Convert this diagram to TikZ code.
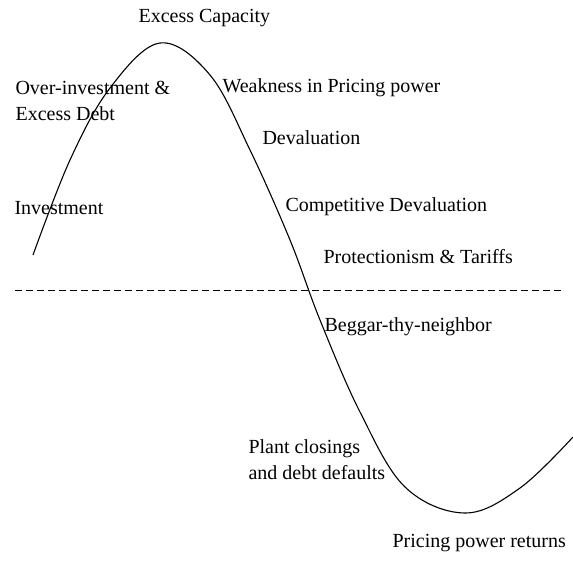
\documentclass[tikz,border=0pt]{standalone}
\usepackage{fontspec}
\setmainfont{Liberation Serif}
\usetikzlibrary{
	positioning,
	calc}
\tikzset{
	cycle plot/.style={
		x=1pt, y=-1pt,
		line width=1.1pt,
		every node/.style={font=\fontsize{20}{26}\selectfont}
		},
	phase/.style={
		anchor=west,
		inner sep=0pt,
		align=left
	},
	wave/.style={
		draw=black,
		line width=1.1pt,
		smooth,
		tension=0.6
	},
	zero line/.style={
		draw=black,
		line width=1pt,
		dash pattern=on 7pt off 4pt
	},
}
\begin{document}
\begin{tikzpicture}[cycle plot]
	\fill[white] (0,0) rectangle (573,560);
	\useasboundingbox (0,0) rectangle (573,560);
%
	\node[phase] (cap)     at (138,18)  {Excess Capacity};
	\node[phase] (overinv) at (15,101)  {Over-investment \&\\Excess Debt};
	\node[phase] (invest)  at (14,208)  {Investment};
	\node[phase] (weak)    at (222,88)  {Weakness in Pricing power};
	\node[phase] (deval)   at (262,138) {Devaluation};
	\node[phase] (compdev) at (285,207) {Competitive Devaluation};
	\node[phase] (protect) at (323,257) {Protectionism \& Tariffs};
	\node[phase] (beggar)  at (324,327) {Beggar-thy-neighbor};
	\node[phase] (plant)   at (248,460) {Plant closings\\and debt defaults};
	\node[phase] (returns) at (392,543) {Pricing power returns};
%
	\coordinate (dl) at (15,290);
	\coordinate (dr) at (563,290);
	\draw[zero line] (dl) -- (dr);
%
	\draw[wave] plot coordinates {(33,255) (70,160) (110,88) (160,43)
		(210,75) (250,150) (290,240) (320,320) (360,412) (405,487)
		(465,513) (520,488) (573,437)};
\end{tikzpicture}
\end{document}
